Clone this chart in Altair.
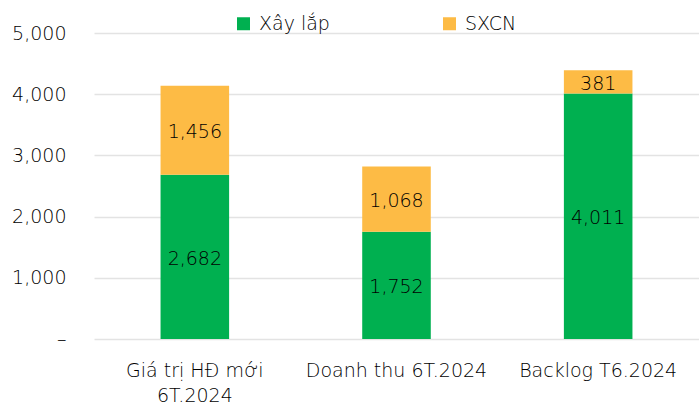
import altair as alt
import pandas as pd

categories = ["Giá trị HĐ mới 6T.2024", "Doanh thu 6T.2024", "Backlog T6.2024"]
series = ["Xây lắp", "SXCN"]
xay_lap = [2682, 1752, 4011]
sxcn = [1456, 1068, 381]

rows = []
for c, a, b in zip(categories, xay_lap, sxcn):
    rows.append({"cat": c, "series": "Xây lắp", "value": a, "order": 0, "start": 0, "end": a})
    rows.append({"cat": c, "series": "SXCN", "value": b, "order": 1, "start": a, "end": a + b})
df = pd.DataFrame(rows)
df["mid"] = (df["start"] + df["end"]) / 2

FONT = "DejaVu Sans"
FW = 200
FS = 19
TC = "#000000"
colors = ["#00B050", "#FDBB45"]

x = alt.X("cat:N", sort=categories, title=None,
          scale=alt.Scale(paddingInner=0.66, paddingOuter=0.33),
          axis=alt.Axis(labelAngle=0, labelFont=FONT, labelFontSize=FS, labelFontWeight=FW, labelColor=TC,
                        domain=False, ticks=False, labelPadding=22, labelLineHeight=25, labelLimit=400,
                        labelExpr="datum.value == 'Giá trị HĐ mới 6T.2024' ? ['Giá trị HĐ mới', '6T.2024'] : datum.label"))

bars = alt.Chart(df).mark_bar().encode(
    x=x,
    y=alt.Y("start:Q", title=None,
            scale=alt.Scale(domain=[0, 5000]),
            axis=alt.Axis(values=[0, 1000, 2000, 3000, 4000, 5000], labelFont=FONT, labelFontSize=FS,
                          labelFontWeight=FW,
                          labelColor=TC, domain=False, ticks=False, labelPadding=28,
                          gridColor="#E3E3E3", gridWidth=1.5,
                          labelExpr="datum.value == 0 ? '–' : format(datum.value, ',')")),
    y2="end:Q",
    color=alt.Color("series:N", sort=series, scale=alt.Scale(domain=series, range=colors),
                    legend=alt.Legend(title=None, orient="none", legendX=140, legendY=-19,
                                      direction="horizontal", symbolType="square", symbolSize=169,
                                      symbolStrokeWidth=0, labelFont=FONT, labelFontSize=FS,
                                      labelFontWeight=FW,
                                      labelColor=TC, columnPadding=110, labelOffset=6)),
    order=alt.Order("order:Q"),
)

labels = alt.Chart(df).mark_text(font=FONT, fontSize=FS, fontWeight=FW, color=TC, dy=2).encode(
    x=alt.X("cat:N", sort=categories),
    y=alt.Y("mid:Q"),
    text=alt.Text("value:Q", format=","),
)

chart = alt.layer(bars, labels).properties(
    width=605, height=306,
    autosize=alt.AutoSizeParams(type="none"),
    padding={"left": 94, "top": 33, "right": 0, "bottom": 69},
).configure_view(stroke=None)

chart.save("out.html", embed_options={"renderer": "svg", "actions": False})
